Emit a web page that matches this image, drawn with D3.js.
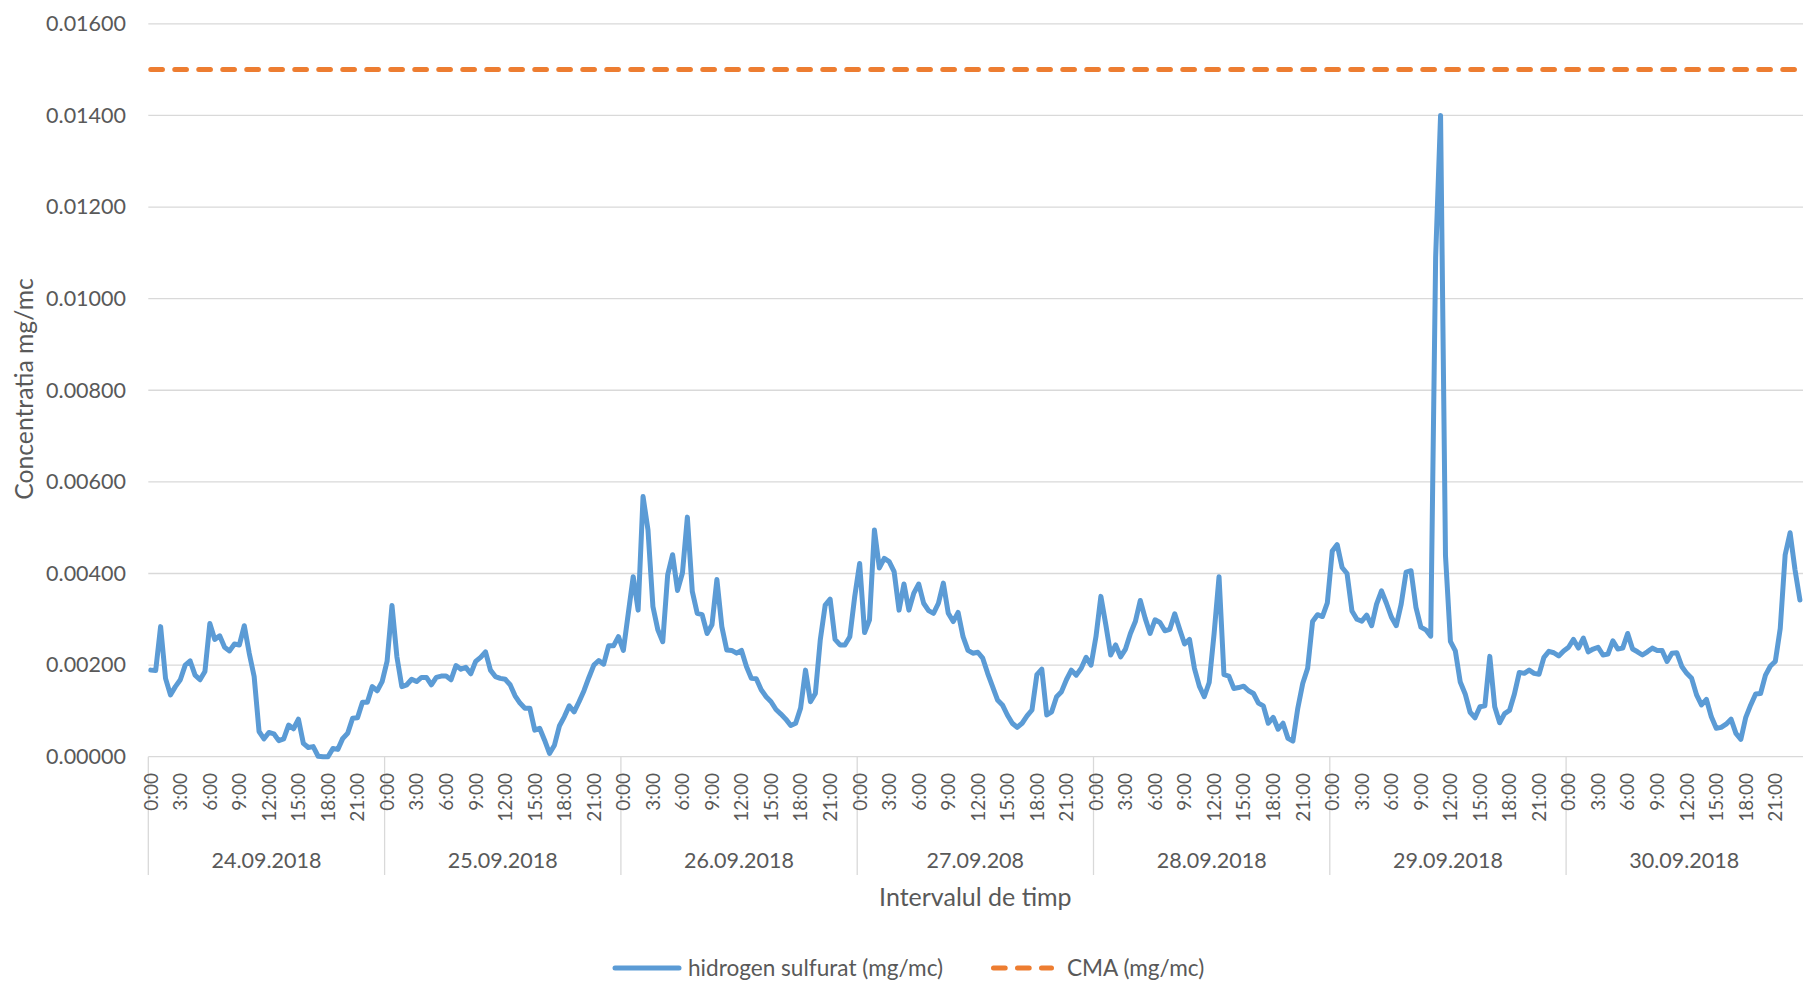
<!DOCTYPE html>
<html>
<head>
<meta charset="utf-8">
<script src="https://cdn.jsdelivr.net/npm/d3@7"></script>
<style>
  html, body { margin: 0; padding: 0; background: #ffffff; }
  svg { display: block; font-family: Lato, "Open Sans", sans-serif; }
</style>
</head>
<body>
<svg id="chart" width="1803" height="984"></svg>
<script>
// ---------- data ----------
const days = ["24.09.2018", "25.09.2018", "26.09.2018", "27.09.208", "28.09.2018", "29.09.2018", "30.09.2018"];
const hourLabels = ["0:00", "3:00", "6:00", "9:00", "12:00", "15:00", "18:00", "21:00"];
const yTicks = [0, 0.002, 0.004, 0.006, 0.008, 0.010, 0.012, 0.014, 0.016];
const cmaLimit = 0.015;
const seriesNames = ["hidrogen sulfurat (mg/mc)", "CMA (mg/mc)"];

// half-hourly values, mg/mc
const day24 = [0.00189,0.00188,0.00284,0.00171,0.00135,0.00153,0.00168,0.00200,0.00209,0.00178,0.00168,0.00186,0.00291,0.00256,0.00264,0.00239,0.00231,0.00246,0.00244,0.00286,0.00226,0.00175,0.00055,0.00039,0.00053,0.00050,0.00035,0.00039,0.00069,0.00061,0.00082,0.00029,0.00020,0.00022,0.00001,0.00000,0.00000,0.00018,0.00016,0.00040,0.00051,0.00084,0.00085,0.00119,0.00119,0.00153,0.00144,0.00164];
const day25 = [0.00208,0.00330,0.00218,0.00153,0.00157,0.00169,0.00164,0.00173,0.00173,0.00157,0.00173,0.00176,0.00176,0.00168,0.00199,0.00191,0.00195,0.00181,0.00208,0.00217,0.00229,0.00189,0.00175,0.00171,0.00169,0.00157,0.00133,0.00117,0.00106,0.00106,0.00058,0.00062,0.00036,0.00007,0.00025,0.00067,0.00087,0.00111,0.00098,0.00120,0.00144,0.00173,0.00200,0.00210,0.00202,0.00242,0.00242,0.00262];
const day26 = [0.00232,0.00313,0.00393,0.00320,0.00568,0.00495,0.00328,0.00277,0.00251,0.00397,0.00441,0.00363,0.00401,0.00523,0.00361,0.00313,0.00310,0.00269,0.00288,0.00387,0.00284,0.00233,0.00232,0.00226,0.00232,0.00197,0.00171,0.00170,0.00146,0.00131,0.00120,0.00103,0.00093,0.00082,0.00068,0.00073,0.00106,0.00189,0.00120,0.00138,0.00255,0.00331,0.00344,0.00256,0.00244,0.00244,0.00262,0.00350];
const day27 = [0.00422,0.00271,0.00299,0.00495,0.00412,0.00433,0.00426,0.00404,0.00320,0.00377,0.00320,0.00357,0.00377,0.00335,0.00319,0.00313,0.00335,0.00379,0.00313,0.00295,0.00315,0.00262,0.00232,0.00226,0.00228,0.00215,0.00182,0.00153,0.00124,0.00113,0.00091,0.00073,0.00064,0.00073,0.00089,0.00102,0.00179,0.00191,0.00091,0.00098,0.00131,0.00142,0.00168,0.00189,0.00178,0.00193,0.00217,0.00200];
const day28 = [0.00262,0.00350,0.00288,0.00222,0.00244,0.00218,0.00235,0.00269,0.00295,0.00341,0.00302,0.00269,0.00299,0.00293,0.00275,0.00278,0.00312,0.00278,0.00246,0.00256,0.00193,0.00154,0.00131,0.00162,0.00269,0.00393,0.00179,0.00176,0.00149,0.00151,0.00154,0.00144,0.00138,0.00117,0.00111,0.00073,0.00086,0.00060,0.00073,0.00040,0.00034,0.00106,0.00160,0.00193,0.00295,0.00310,0.00306,0.00336];
const day29 = [0.00449,0.00463,0.00413,0.00400,0.00318,0.00300,0.00296,0.00309,0.00286,0.00333,0.00362,0.00335,0.00305,0.00286,0.00333,0.00403,0.00406,0.00326,0.00283,0.00277,0.00263,0.01090,0.01400,0.00439,0.00252,0.00231,0.00163,0.00137,0.00097,0.00085,0.00109,0.00111,0.00219,0.00109,0.00074,0.00094,0.00101,0.00137,0.00184,0.00182,0.00189,0.00182,0.00180,0.00217,0.00230,0.00227,0.00220,0.00231];
const day30 = [0.00239,0.00256,0.00237,0.00259,0.00229,0.00235,0.00239,0.00222,0.00224,0.00253,0.00235,0.00237,0.00269,0.00235,0.00229,0.00222,0.00229,0.00237,0.00232,0.00232,0.00208,0.00226,0.00227,0.00197,0.00182,0.00171,0.00135,0.00113,0.00125,0.00087,0.00062,0.00064,0.00071,0.00082,0.00051,0.00038,0.00086,0.00113,0.00137,0.00138,0.00178,0.00198,0.00208,0.00280,0.00441,0.00489,0.00408,0.00342];

const h2s = [].concat(day24, day25, day26, day27, day28, day29, day30);
const perDay = day24.length;

// ---------- layout ----------
const W = 1803, H = 984;
const plot = { left: 148.3, right: 1802.4, top: 23.8, bottom: 756.7 };
const textColor = "#595959";
const gridColor = "#d9d9d9";
const blue = "#5B9BD5";
const orange = "#ED7D31";

const svg = d3.select("#chart");
svg.append("rect").attr("width", W).attr("height", H).attr("fill", "#fff");

const x = d3.scaleBand().domain(d3.range(h2s.length)).range([plot.left, plot.right]).padding(0);
const bw = x.bandwidth();
const cx = i => x(i) + bw / 2;
const y = d3.scaleLinear().domain([0, 0.016]).range([plot.bottom, plot.top]);

// gridlines
svg.append("g").selectAll("line").data(yTicks.filter(d => d > 0)).join("line")
  .attr("x1", plot.left).attr("x2", W)
  .attr("y1", d => y(d)).attr("y2", d => y(d))
  .attr("stroke", gridColor).attr("stroke-width", 1.3);

// y axis labels
const yAxis = d3.axisLeft(y).tickValues(yTicks).tickFormat(d3.format(".5f")).tickSize(0).tickPadding(0);
const gy = svg.append("g").attr("transform", `translate(126,0)`).call(yAxis);
gy.select(".domain").remove();
gy.selectAll("text").attr("fill", textColor).style("font-size", "21.5px").style("font-family", "Lato, 'Open Sans', sans-serif").attr("x", 0);

// x axis line
svg.append("line").attr("x1", plot.left).attr("x2", W)
  .attr("y1", plot.bottom).attr("y2", plot.bottom)
  .attr("stroke", gridColor).attr("stroke-width", 1.3);

// day separators
svg.append("g").selectAll("line").data(days).join("line")
  .attr("x1", (d, k) => x(k * perDay)).attr("x2", (d, k) => x(k * perDay))
  .attr("y1", plot.bottom).attr("y2", 875)
  .attr("stroke", gridColor).attr("stroke-width", 1.3);

// hour labels
const hourTicks = [];
days.forEach((d, k) => hourLabels.forEach((h, j) => hourTicks.push({ i: k * perDay + j * (perDay / hourLabels.length), label: h })));
svg.append("g").selectAll("text").data(hourTicks).join("text")
  .attr("transform", d => `translate(${cx(d.i)},773) rotate(-90)`)
  .attr("text-anchor", "end").attr("dy", "0.36em")
  .attr("fill", textColor).style("font-size", "19px")
  .text(d => d.label);

// day labels
svg.append("g").selectAll("text").data(days).join("text")
  .attr("x", (d, k) => x(k * perDay + perDay / 2)).attr("y", 868)
  .attr("text-anchor", "middle").attr("fill", textColor).style("font-size", "21.5px")
  .text(d => d);

// axis titles
svg.append("text").attr("x", (plot.left + plot.right) / 2).attr("y", 906)
  .attr("text-anchor", "middle").attr("fill", textColor).style("font-size", "25px")
  .text("Intervalul de timp");
svg.append("text").attr("transform", `translate(33,389) rotate(-90)`)
  .attr("text-anchor", "middle").attr("fill", textColor).style("font-size", "24.7px")
  .text("Concentratia mg/mc");

// CMA dashed line
svg.append("path")
  .datum([0, h2s.length - 1])
  .attr("d", d3.line().x(i => cx(i)).y(() => y(cmaLimit)))
  .attr("fill", "none").attr("stroke", orange).attr("stroke-width", 5)
  .attr("stroke-dasharray", "11.7,12.3").attr("stroke-linecap", "round");

// H2S line
svg.append("path")
  .datum(h2s)
  .attr("d", d3.line().x((d, i) => cx(i)).y(d => y(d)))
  .attr("fill", "none").attr("stroke", blue).attr("stroke-width", 5)
  .attr("stroke-linejoin", "round").attr("stroke-linecap", "round");

// legend
const legY = 968;
const leg = svg.append("g");
leg.append("line").attr("x1", 615).attr("x2", 679).attr("y1", legY).attr("y2", legY)
  .attr("stroke", blue).attr("stroke-width", 5).attr("stroke-linecap", "round");
leg.append("text").attr("x", 688).attr("y", legY).attr("dy", "0.36em")
  .attr("fill", textColor).style("font-size", "22.6px").text(seriesNames[0]);
leg.append("line").attr("x1", 993.5).attr("x2", 1051.5).attr("y1", legY).attr("y2", legY)
  .attr("stroke", orange).attr("stroke-width", 5).attr("stroke-linecap", "round")
  .attr("stroke-dasharray", "11.7,12.3");
leg.append("text").attr("x", 1067).attr("y", legY).attr("dy", "0.36em")
  .attr("fill", textColor).style("font-size", "22.6px").text(seriesNames[1]);
</script>
</body>
</html>
